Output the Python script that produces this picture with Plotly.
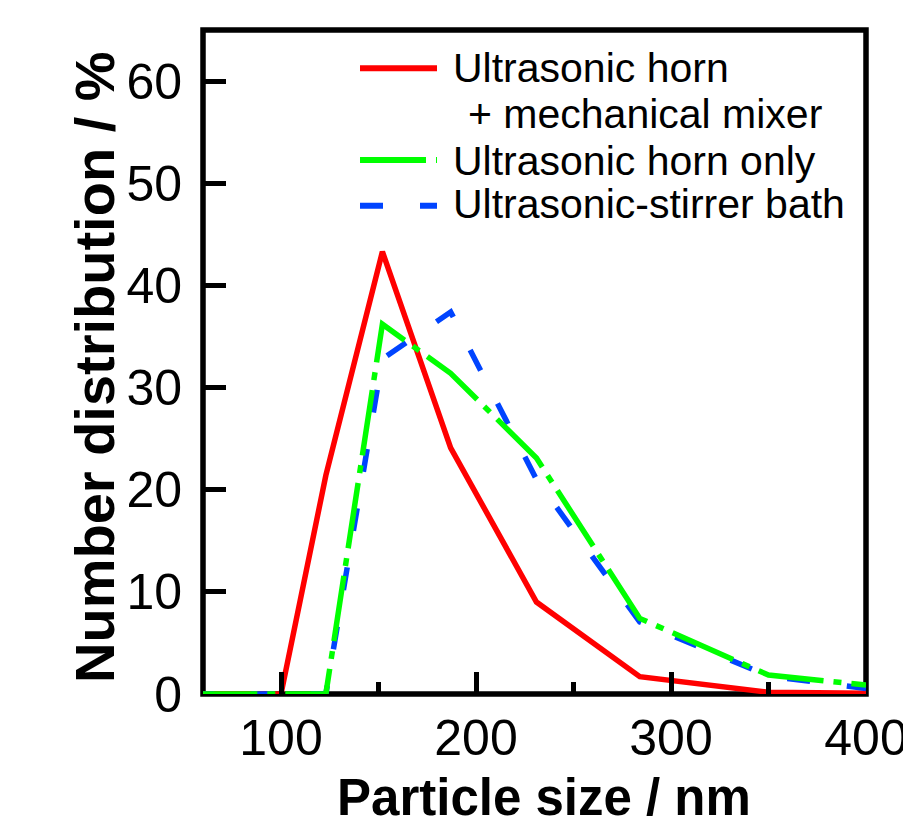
import plotly.graph_objects as go

# ---- data ----
particle_size = [54, 66, 81, 100, 123, 152, 187, 231, 284, 350, 400]
horn_mixer    = [0, 0, 0, 0, 21.4, 43.3, 24.1, 9.0, 1.7, 0.17, 0.07]
horn_only     = [0, 0, 0, 0, 0, 36.2, 31.4, 23.1, 7.4, 1.86, 0.88]
stirrer_bath  = [0, 0, 0, 0, 0, 32.8, 37.4, 21.0, 7.05, 1.76, 0.54]

x_ticks = [100, 200, 300, 400]
x_minor = [150, 250, 350]
y_ticks = [0, 10, 20, 30, 40, 50, 60]

legend_labels = ["Ultrasonic horn", "+ mechanical mixer", "Ultrasonic horn only", "Ultrasonic-stirrer bath"]

RED = "#ff0000"
GREEN = "#00ff00"
BLUE = "#0044ff"
GREEN_DASH = "66px,10px,8px,10px"
BLUE_DASH = "23px,37px"
FONT = "Liberation Sans, Arial, sans-serif"

W, H = 903, 827
L, R, T, B = 203, 37, 30, 133
PW, PH = W - L - R, H - T - B


def px(xp):
    return (xp - L) / PW


def py(yp):
    return (H - B - yp) / PH


fig = go.Figure()
fig.add_trace(go.Scatter(x=particle_size, y=horn_mixer, mode="lines",
                         line=dict(color=RED, width=5.5), showlegend=False))
fig.add_trace(go.Scatter(x=particle_size, y=stirrer_bath, mode="lines",
                         line=dict(color=BLUE, width=5.5, dash=BLUE_DASH), showlegend=False))
fig.add_trace(go.Scatter(x=particle_size, y=horn_only, mode="lines",
                         line=dict(color=GREEN, width=5.5, dash=GREEN_DASH), showlegend=False))

shapes = [
    dict(type="rect", xref="paper", yref="paper", x0=0, y0=0, x1=1, y1=1,
         line=dict(color="black", width=5.5), layer="below"),
]
# manual legend samples
for yp, col, dash in [(68.3, RED, "solid"), (160, GREEN, GREEN_DASH), (205.7, BLUE, BLUE_DASH)]:
    shapes.append(dict(type="line", xref="paper", yref="paper",
                       x0=px(360), x1=px(437), y0=py(yp), y1=py(yp),
                       line=dict(color=col, width=6, dash=dash)))

annotations = []
for text, xp, yp in [(legend_labels[0], 451, 67.9), (legend_labels[1], 466, 113.7),
                     (legend_labels[2], 451, 160.5), (legend_labels[3], 451, 204)]:
    annotations.append(dict(text=text, xref="paper", yref="paper", x=px(xp), y=py(yp),
                            xanchor="left", yanchor="middle", showarrow=False,
                            font=dict(family=FONT, size=41, color="black")))

# axis titles
annotations.append(dict(text="<b>Particle size / nm</b>", xref="paper", yref="paper",
                        x=px(544), y=py(797.5), xanchor="center", yanchor="middle",
                        showarrow=False, font=dict(family=FONT, size=51, color="black")))
annotations.append(dict(text="<b>Number distribution / %</b>", xref="paper", yref="paper",
                        x=px(94), y=py(367), xanchor="center", yanchor="middle", textangle=-90,
                        showarrow=False, font=dict(family=FONT, size=56, color="black")))

fig.update_layout(
    width=W, height=H, autosize=False,
    margin=dict(l=L, r=R, t=T, b=B, pad=0),
    paper_bgcolor="white", plot_bgcolor="white",
    template="none",
    showlegend=False,
    shapes=shapes,
    annotations=annotations,
    xaxis=dict(range=[60, 400.001], tickmode="array", tickvals=x_ticks,
               ticks="inside", ticklen=22, tickwidth=5, tickcolor="black",
               minor=dict(tickmode="array", tickvals=x_minor, ticks="inside",
                          ticklen=12, tickwidth=5, tickcolor="black", showgrid=False),
               showgrid=False, zeroline=False, showline=False, automargin=False,
               ticklabeloverflow="allow", ticklabelstandoff=10,
               tickfont=dict(family=FONT, size=50, color="black")),
    yaxis=dict(range=[0, 65], tickmode="array", tickvals=y_ticks,
               ticks="inside", ticklen=23, tickwidth=5, tickcolor="black",
               showgrid=False, zeroline=False, showline=False, automargin=False,
               ticklabelstandoff=20,
               tickfont=dict(family=FONT, size=50, color="black")),
)

fig.write_html("out.html")
